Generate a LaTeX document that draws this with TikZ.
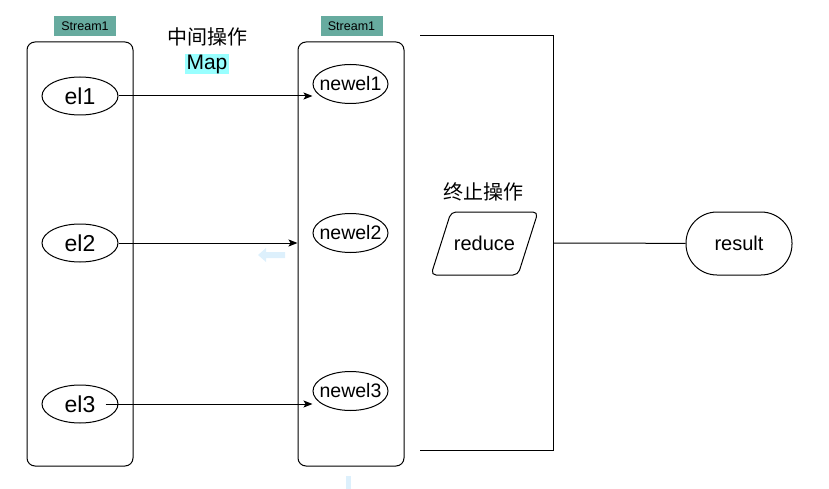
\documentclass[tikz,border=0pt]{standalone}
\usepackage{fontspec}
\setmainfont{Liberation Sans}
\newfontfamily\cjk{Noto Sans CJK SC}
\usepackage{tikz}
\usetikzlibrary{shapes.geometric, arrows, arrows.meta}
\definecolor{tagteal}{HTML}{67AB9F}
\definecolor{mapcyan}{HTML}{99FFFF}
\definecolor{hintblue}{HTML}{DDF0FC}

\begin{document}
\begin{tikzpicture}[x=1pt, y=-1pt, line width=1pt,
	stream/.style={draw, rounded corners=8, minimum width=106, minimum height=424},
	tag/.style={fill=tagteal, minimum width=62, minimum height=20, inner sep=0, font=\fontsize{12.5}{12.5}\selectfont},
	elem/.style={draw, ellipse, minimum width=76, minimum height=38, inner sep=0, font=\fontsize{23}{23}\selectfont},
	newelem/.style={draw, ellipse, minimum width=75, minimum height=39, inner xsep=-4.5, inner ysep=0, font=\fontsize{19.5}{19.5}\selectfont},
	oplabel/.style={font=\cjk\fontsize{20}{20}\selectfont}]
			
			\def \margin {13} % el3 arrow starts inside the ellipse
			\def \slant {10}
			
			\useasboundingbox (0,0) rectangle (829,489);
			
			\node[stream] (s1) at (80,254) {};
			\node[stream] (s2) at (351,254) {};
			\node[tag] (t1) at (85,26) {Stream1};
			\node[tag] (t2) at (351.5,26) {Stream1};
			
			\foreach \i/\y/\ny in {1/96/84, 2/243/233, 3/404/391}
			{
				\node[elem] (el\i) at (80,\y) {el\i};
				\node[newelem] (newel\i) at (350.5,\ny) {newel\i};
			}
			
			\draw[->, >={Stealth[length=9pt, width=7pt, inset=2pt]}] (el1) -- (el1 -| newel1.west);
			\draw[->, >={Stealth[length=9pt, width=7pt, inset=2pt]}] (el2) -- (el2 -| s2.west);
			\draw[->, >={Stealth[length=9pt, width=7pt, inset=2pt]}] ([xshift=-\margin]el3.east) -- (el3 -| newel3.west);
			
			\node[oplabel] (midop) at (207,37) {中间操作};
			\node[fill=mapcyan, inner xsep=1.5, inner ysep=1, font=\fontsize{21}{21}\selectfont] (map) at (207,64) {Map};
			
			% bracket round the second stream
			\coordinate (bt) at (420,36);
			\coordinate (bb) at (420,450);
			\coordinate (bm) at (553,243);
			\draw (bt) -- (553,36) -- (553,450) -- (bb);
			
			\node[oplabel] (endop) at (483,192) {终止操作};
			\node[minimum width=86, minimum height=62, font=\fontsize{20}{20}\selectfont] (reduce) at (484.5,243.5) {reduce};
			\draw[rounded corners=5] ([xshift=\slant]reduce.north west) -- ([xshift=\slant]reduce.north east)
				-- ([xshift=-\slant]reduce.south east) -- ([xshift=-\slant]reduce.south west) -- cycle;
			\node[draw, rounded corners=31, minimum width=106, minimum height=63, font=\fontsize{20}{20}\selectfont] (res) at (739,243.5) {result};
			\draw (bm) -- (res);
			
			\fill[hintblue] (258,255) -- (266,248) -- (266,252) -- (285,252) -- (285,258) -- (266,258) -- (266,262) -- cycle;
			\fill[hintblue] (346,476) rectangle (351,489);
			\end{tikzpicture}
\end{document}
